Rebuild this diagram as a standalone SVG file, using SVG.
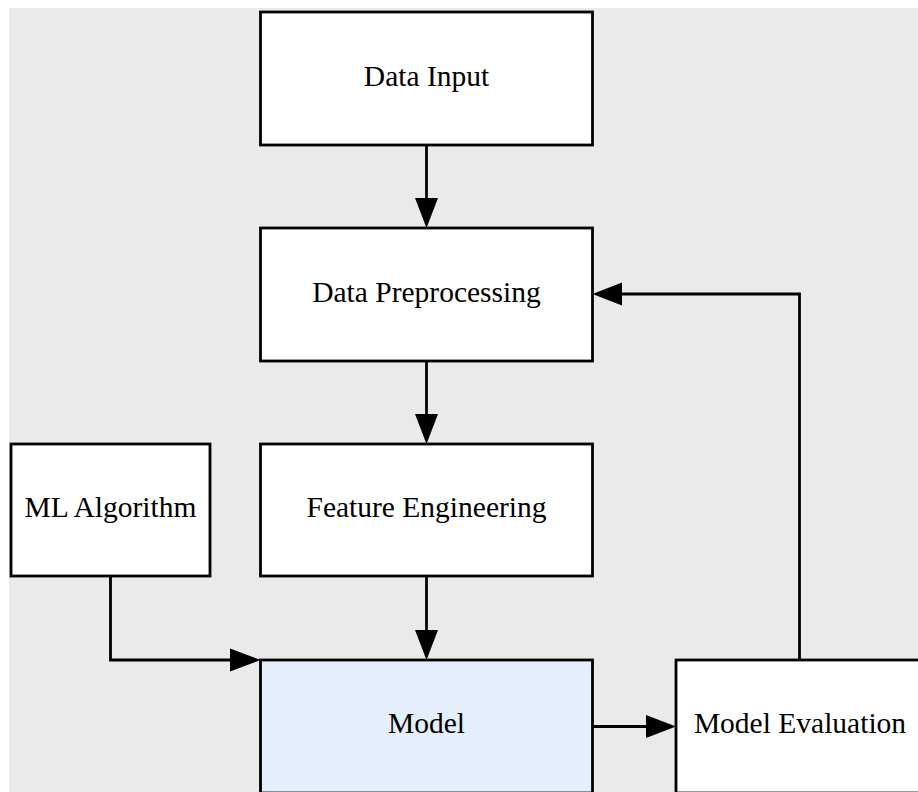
<svg xmlns="http://www.w3.org/2000/svg" width="918" height="792" viewBox="0 0 918 792">
  <style>
    .node rect { fill: #ffffff; stroke: #000000; stroke-width: 2.8; }
    .node text { font-family: "Liberation Serif", "Times New Roman", serif; font-size: 29.5px; fill: #000000; text-anchor: middle; }
    .edge { fill: none; stroke: #000000; stroke-width: 2.8; }
    .head { fill: #000000; stroke: none; }
  </style>

  <!-- canvas -->
  <rect x="0" y="0" width="918" height="792" fill="#ffffff"/>
  <rect x="9" y="8" width="909" height="784" fill="#eaeaea"/>

  <g id="connectors">
    <!-- Data Input -> Data Preprocessing -->
    <path class="edge" d="M426.5,145 V200"/>
    <polygon class="head" points="415,198 438,198 426.5,228"/>
    <!-- Data Preprocessing -> Feature Engineering -->
    <path class="edge" d="M426.5,361 V416"/>
    <polygon class="head" points="415,414 438,414 426.5,444"/>
    <!-- Feature Engineering -> Model -->
    <path class="edge" d="M426.5,576 V632"/>
    <polygon class="head" points="415,630 438,630 426.5,660"/>
    <!-- ML Algorithm -> Model -->
    <path class="edge" d="M110.5,576 V660 H232"/>
    <polygon class="head" points="230,648.5 230,671.5 260.5,660"/>
    <!-- Model -> Model Evaluation -->
    <path class="edge" d="M592.5,726.5 H648"/>
    <polygon class="head" points="646,715 646,738 676,726.5"/>
    <!-- Model Evaluation -> Data Preprocessing (feedback) -->
    <path class="edge" d="M799.5,660 V294 H620"/>
    <polygon class="head" points="622,282.5 622,305.5 592.5,294"/>
  </g>

  <g id="data-input" class="node">
    <rect x="260.5" y="12" width="332" height="133"/>
    <text x="426.5" y="85.5">Data Input</text>
  </g>

  <g id="data-preprocessing" class="node">
    <rect x="260.5" y="228" width="332" height="133"/>
    <text x="426.5" y="301.5">Data Preprocessing</text>
  </g>

  <g id="feature-engineering" class="node">
    <rect x="260.5" y="444" width="332" height="132"/>
    <text x="426.5" y="517">Feature Engineering</text>
  </g>

  <g id="ml-algorithm" class="node">
    <rect x="11" y="444" width="199" height="132"/>
    <text x="110.5" y="517">ML Algorithm</text>
  </g>

  <g id="model" class="node">
    <rect x="260.5" y="660" width="332" height="133" style="fill:#e5eefc"/>
    <text x="426.5" y="733">Model</text>
  </g>

  <g id="model-evaluation" class="node">
    <rect x="676" y="660" width="248" height="133"/>
    <text x="800" y="733">Model Evaluation</text>
  </g>
</svg>
